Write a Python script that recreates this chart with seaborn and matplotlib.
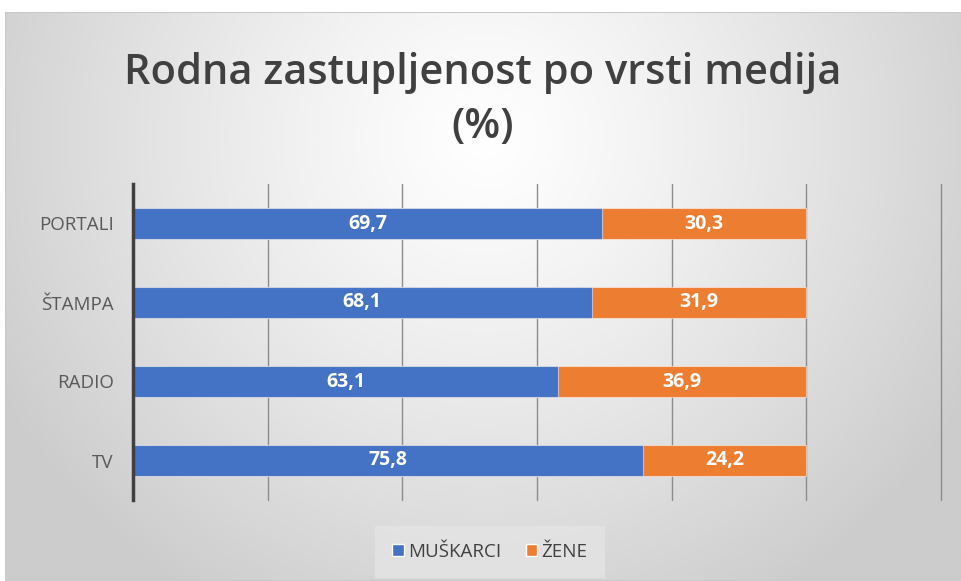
import numpy as np
import pandas as pd
import matplotlib
matplotlib.use("Agg")
import matplotlib.pyplot as plt
import seaborn as sns
from matplotlib.patches import Patch

categories = ["PORTALI", "ŠTAMPA", "RADIO", "TV"]
muskarci = [69.7, 68.1, 63.1, 75.8]
zene = [30.3, 31.9, 36.9, 24.2]
series_names = ["MUŠKARCI", "ŽENE"]
title = "Rodna zastupljenost po vrsti medija\n(%)"

BLUE = "#4472C4"
ORANGE = "#ED7D31"
FONT = ["Open Sans", "DejaVu Sans"]

sns.set_theme(style="white")
plt.rcParams["font.family"] = FONT

df = pd.DataFrame({"kat": categories, "m": muskarci, "z": zene})
df["tot"] = df["m"] + df["z"]

fig = plt.figure(figsize=(9.62, 5.81), dpi=100)
fig.patch.set_facecolor("white")

# background gradient panel
bg = fig.add_axes([5 / 962, 0, 1 - 5 / 962, 1 - 12 / 581], zorder=-10)
h, w = 300, 500
yy, xx = np.mgrid[0:h, 0:w]
cx, cy = w * 0.5, h * 0.22
d = np.sqrt(((xx - cx) / (w * 0.58)) ** 2 + ((yy - cy) / (h * 0.95)) ** 2)
d = np.clip(d, 0, 1)
val = 1.0 - 0.2 * d ** 1.2
img = np.dstack([val, val, val])
bg.imshow(img, aspect="auto", extent=[0, 1, 0, 1], origin="upper")
bg.set_axis_off()
bg.add_patch(plt.Rectangle((0, 0), 1, 1, transform=bg.transAxes, fill=False,
                           edgecolor="#c8c8c8", lw=1.5))

ax = fig.add_axes([133 / 962, 1 - 500 / 581, (941 - 133) / 962, 316 / 581])
ax.patch.set_alpha(0)

sns.barplot(data=df, x="tot", y="kat", color=ORANGE, saturation=1, width=0.38,
            ax=ax, orient="h", zorder=3)
sns.barplot(data=df, x="m", y="kat", color=BLUE, saturation=1, width=0.38,
            ax=ax, orient="h", zorder=4)
for p in ax.patches:
    p.set_edgecolor((1, 1, 1, 0.5))
    p.set_linewidth(0.8)

for i, (m, z) in enumerate(zip(muskarci, zene)):
    ax.text(m / 2, i, f"{m:.1f}".replace(".", ","), ha="center", va="center",
            color="white", fontsize=14, fontweight="bold", zorder=5)
    ax.text(m + z / 2, i, f"{z:.1f}".replace(".", ","), ha="center", va="center",
            color="white", fontsize=14, fontweight="bold", zorder=5)

ax.set_xlim(0, 120)
ax.set_ylim(3.5, -0.5)
ax.set_xticks(np.arange(0, 121, 20))
ax.set_xticklabels([])
ax.tick_params(axis="x", length=0)
ax.tick_params(axis="y", length=0, labelsize=13.5, labelcolor="#595959", pad=14)
ax.grid(axis="x", color="#8c8c8c", lw=1.0, zorder=0)
for gl in ax.get_xgridlines():
    gl.set_clip_on(False)
ax.set_xlabel("")
ax.set_ylabel("")
for k in ["top", "right", "bottom"]:
    ax.spines[k].set_visible(False)
ax.spines["left"].set_color("#404040")
ax.spines["left"].set_linewidth(2.5)
ax.spines["left"].set_zorder(6)

fig.text(0.502, 1 - 100 / 581, title, ha="center", va="center", fontsize=30,
         fontweight="semibold", color="#404040", linespacing=1.4)

handles = [Patch(facecolor=BLUE), Patch(facecolor=ORANGE)]
leg = fig.legend(handles, series_names, loc="center", bbox_to_anchor=(490 / 962, 1 - 552 / 581),
                 ncol=2, frameon=True, fontsize=13.5, handlelength=0.6, handleheight=0.6,
                 handletextpad=0.25, columnspacing=1.3, borderpad=0.6)
leg.get_frame().set_facecolor("#e4e4e4")
leg.get_frame().set_edgecolor("none")
leg.get_frame().set_boxstyle("square")
for t in leg.get_texts():
    t.set_color("#404040")

fig.savefig("out.png", dpi=100)
